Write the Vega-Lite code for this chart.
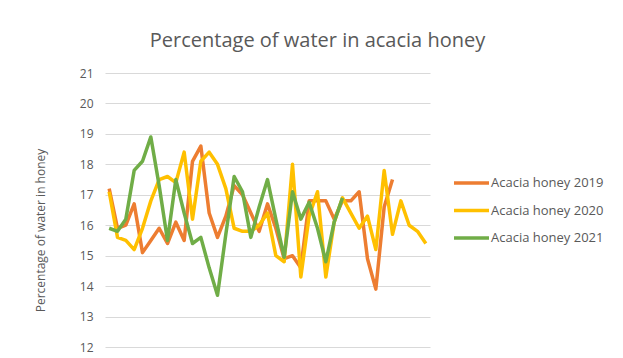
{
  "$schema": "https://vega.github.io/schema/vega-lite/v6.json",
  "width": 325,
  "height": 274,
  "autosize": {"type": "none"},
  "padding": {"left": 105, "top": 73, "right": 193, "bottom": 11},
  "background": "white",
  "config": {
    "view": {"stroke": null},
    "font": "Open Sans"
  },
  "title": {
    "text": "Percentage of water in acacia honey",
    "font": "Open Sans",
    "fontSize": 20,
    "fontWeight": "normal",
    "color": "#595959",
    "anchor": "middle",
    "frame": "group",
    "dx": 50,
    "offset": 16
  },
  "data": {"values": [
    {"series":"Acacia honey 2019","i":1,"v":17.2},{"series":"Acacia honey 2019","i":2,"v":15.9},{"series":"Acacia honey 2019","i":3,"v":16.0},{"series":"Acacia honey 2019","i":4,"v":16.7},{"series":"Acacia honey 2019","i":5,"v":15.1},{"series":"Acacia honey 2019","i":6,"v":15.5},{"series":"Acacia honey 2019","i":7,"v":15.9},{"series":"Acacia honey 2019","i":8,"v":15.4},{"series":"Acacia honey 2019","i":9,"v":16.1},{"series":"Acacia honey 2019","i":10,"v":15.5},{"series":"Acacia honey 2019","i":11,"v":18.1},{"series":"Acacia honey 2019","i":12,"v":18.6},{"series":"Acacia honey 2019","i":13,"v":16.4},{"series":"Acacia honey 2019","i":14,"v":15.6},{"series":"Acacia honey 2019","i":15,"v":16.3},{"series":"Acacia honey 2019","i":16,"v":17.3},{"series":"Acacia honey 2019","i":17,"v":17.0},{"series":"Acacia honey 2019","i":18,"v":16.4},{"series":"Acacia honey 2019","i":19,"v":15.8},{"series":"Acacia honey 2019","i":20,"v":16.7},{"series":"Acacia honey 2019","i":21,"v":15.9},{"series":"Acacia honey 2019","i":22,"v":14.9},{"series":"Acacia honey 2019","i":23,"v":15.0},{"series":"Acacia honey 2019","i":24,"v":14.6},{"series":"Acacia honey 2019","i":25,"v":16.8},{"series":"Acacia honey 2019","i":26,"v":16.8},{"series":"Acacia honey 2019","i":27,"v":16.8},{"series":"Acacia honey 2019","i":28,"v":16.2},{"series":"Acacia honey 2019","i":29,"v":16.8},{"series":"Acacia honey 2019","i":30,"v":16.8},{"series":"Acacia honey 2019","i":31,"v":17.1},{"series":"Acacia honey 2019","i":32,"v":14.9},{"series":"Acacia honey 2019","i":33,"v":13.9},{"series":"Acacia honey 2019","i":34,"v":16.6},{"series":"Acacia honey 2019","i":35,"v":17.5},
    {"series":"Acacia honey 2020","i":1,"v":17.1},{"series":"Acacia honey 2020","i":2,"v":15.6},{"series":"Acacia honey 2020","i":3,"v":15.5},{"series":"Acacia honey 2020","i":4,"v":15.2},{"series":"Acacia honey 2020","i":5,"v":15.9},{"series":"Acacia honey 2020","i":6,"v":16.8},{"series":"Acacia honey 2020","i":7,"v":17.5},{"series":"Acacia honey 2020","i":8,"v":17.6},{"series":"Acacia honey 2020","i":9,"v":17.4},{"series":"Acacia honey 2020","i":10,"v":18.4},{"series":"Acacia honey 2020","i":11,"v":16.2},{"series":"Acacia honey 2020","i":12,"v":18.1},{"series":"Acacia honey 2020","i":13,"v":18.4},{"series":"Acacia honey 2020","i":14,"v":18.0},{"series":"Acacia honey 2020","i":15,"v":17.2},{"series":"Acacia honey 2020","i":16,"v":15.9},{"series":"Acacia honey 2020","i":17,"v":15.8},{"series":"Acacia honey 2020","i":18,"v":15.8},{"series":"Acacia honey 2020","i":19,"v":16.0},{"series":"Acacia honey 2020","i":20,"v":16.4},{"series":"Acacia honey 2020","i":21,"v":15.0},{"series":"Acacia honey 2020","i":22,"v":14.8},{"series":"Acacia honey 2020","i":23,"v":18.0},{"series":"Acacia honey 2020","i":24,"v":14.3},{"series":"Acacia honey 2020","i":25,"v":16.3},{"series":"Acacia honey 2020","i":26,"v":17.1},{"series":"Acacia honey 2020","i":27,"v":14.3},{"series":"Acacia honey 2020","i":28,"v":16.1},{"series":"Acacia honey 2020","i":29,"v":16.9},{"series":"Acacia honey 2020","i":30,"v":16.4},{"series":"Acacia honey 2020","i":31,"v":15.9},{"series":"Acacia honey 2020","i":32,"v":16.3},{"series":"Acacia honey 2020","i":33,"v":15.2},{"series":"Acacia honey 2020","i":34,"v":17.8},{"series":"Acacia honey 2020","i":35,"v":15.7},{"series":"Acacia honey 2020","i":36,"v":16.8},{"series":"Acacia honey 2020","i":37,"v":16.0},{"series":"Acacia honey 2020","i":38,"v":15.8},{"series":"Acacia honey 2020","i":39,"v":15.4},
    {"series":"Acacia honey 2021","i":1,"v":15.9},{"series":"Acacia honey 2021","i":2,"v":15.8},{"series":"Acacia honey 2021","i":3,"v":16.2},{"series":"Acacia honey 2021","i":4,"v":17.8},{"series":"Acacia honey 2021","i":5,"v":18.1},{"series":"Acacia honey 2021","i":6,"v":18.9},{"series":"Acacia honey 2021","i":7,"v":17.3},{"series":"Acacia honey 2021","i":8,"v":15.5},{"series":"Acacia honey 2021","i":9,"v":17.5},{"series":"Acacia honey 2021","i":10,"v":16.4},{"series":"Acacia honey 2021","i":11,"v":15.4},{"series":"Acacia honey 2021","i":12,"v":15.6},{"series":"Acacia honey 2021","i":13,"v":14.6},{"series":"Acacia honey 2021","i":14,"v":13.7},{"series":"Acacia honey 2021","i":15,"v":15.7},{"series":"Acacia honey 2021","i":16,"v":17.6},{"series":"Acacia honey 2021","i":17,"v":17.1},{"series":"Acacia honey 2021","i":18,"v":15.6},{"series":"Acacia honey 2021","i":19,"v":16.6},{"series":"Acacia honey 2021","i":20,"v":17.5},{"series":"Acacia honey 2021","i":21,"v":16.2},{"series":"Acacia honey 2021","i":22,"v":14.95},{"series":"Acacia honey 2021","i":23,"v":17.1},{"series":"Acacia honey 2021","i":24,"v":16.2},{"series":"Acacia honey 2021","i":25,"v":16.75},{"series":"Acacia honey 2021","i":26,"v":15.9},{"series":"Acacia honey 2021","i":27,"v":14.8},{"series":"Acacia honey 2021","i":28,"v":16.1},{"series":"Acacia honey 2021","i":29,"v":16.9}
  ]},
  "mark": {"type": "line", "strokeWidth": 3.5, "strokeJoin": "round", "strokeCap": "butt"},
  "encoding": {
    "x": {
      "field": "i",
      "type": "ordinal",
      "scale": {"type": "point", "padding": 0.5},
      "axis": null
    },
    "y": {
      "field": "v",
      "type": "quantitative",
      "scale": {"domain": [12, 21], "nice": false, "zero": false},
      "axis": {
        "values": [12,13,14,15,16,17,18,19,20,21],
        "title": "Percentage of water in honey",
        "titleFont": "Open Sans",
        "titleFontSize": 12,
        "titleFontWeight": "normal",
        "titleColor": "#595959",
        "titleX": -65,
        "titleY": 157,
        "titleAngle": -90,
        "titleAlign": "center",
        "titleBaseline": "middle",
        "labelFont": "Open Sans",
        "labelFontSize": 12,
        "labelColor": "#595959",
        "labelPadding": 12,
        "ticks": false,
        "domain": false,
        "grid": true,
        "gridColor": "#D9D9D9",
        "gridWidth": 1
      }
    },
    "color": {
      "field": "series",
      "type": "nominal",
      "scale": {
        "domain": ["Acacia honey 2019", "Acacia honey 2020", "Acacia honey 2021"],
        "range": ["#ED7D31", "#FFC000", "#70AD47"]
      },
      "legend": {
        "title": null,
        "orient": "none",
        "legendX": 347,
        "legendY": 103,
        "symbolType": "stroke",
        "symbolSize": 1225,
        "symbolStrokeWidth": 3.5,
        "clipHeight": 14,
        "rowPadding": 13.5,
        "labelOffset": 0,
        "labelFont": "Open Sans",
        "labelFontSize": 13,
        "labelColor": "#595959"
      }
    }
  }
}
